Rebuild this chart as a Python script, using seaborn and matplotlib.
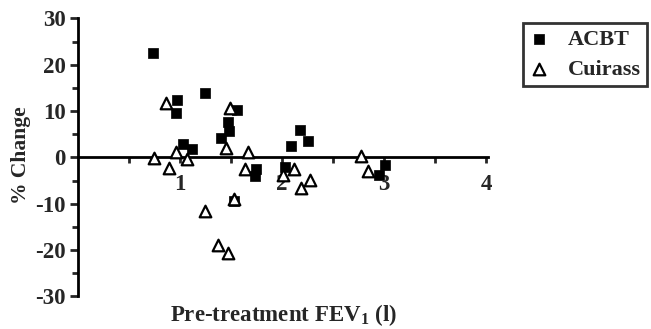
import pandas as pd
import matplotlib.pyplot as plt
import seaborn as sns

# values
acbt_fev = [0.73, 0.97, 0.96, 1.24, 1.56, 1.03, 1.12, 1.47, 1.48, 1.40,
            2.09, 2.17, 2.25, 1.74, 1.73, 1.53, 2.03, 3.01, 2.95]
acbt_change = [22.5, 12.5, 9.5, 14.0, 10.3, 3.0, 1.8, 7.6, 5.7, 4.3,
               2.4, 5.9, 3.5, -2.4, -4.0, -9.4, -2.0, -1.6, -3.7]

cuirass_fev = [0.865, 1.49, 0.745, 0.96, 1.45, 1.67, 0.89, 1.066, 1.64, 1.24,
               1.37, 1.47, 2.01, 2.12, 2.18, 2.27, 2.77, 2.84, 1.53]
cuirass_change = [11.7, 10.7, -0.1, 1.2, 2.0, 1.2, -2.2, -0.4, -2.4, -11.6,
                  -19.0, -20.6, -3.7, -2.4, -6.5, -4.9, 0.3, -3.0, -9.0]

x_ticks = [1, 2, 3, 4]
y_ticks = [-30, -20, -10, 0, 10, 20, 30]

df = pd.concat([
    pd.DataFrame({"fev": acbt_fev, "change": acbt_change, "group": "ACBT"}),
    pd.DataFrame({"fev": cuirass_fev, "change": cuirass_change, "group": "Cuirass"}),
])

sns.set_style("white")
plt.rcParams["font.family"] = ["Liberation Serif", "DejaVu Serif"]
plt.rcParams["font.weight"] = "bold"
plt.rcParams["mathtext.fontset"] = "custom"
plt.rcParams["mathtext.rm"] = "Liberation Serif:bold"

fig = plt.figure(figsize=(6.51, 3.29), dpi=100)
ax = fig.add_axes([0.12, 0.099, 0.63, 0.845])

sns.scatterplot(data=df[df.group == "ACBT"], x="fev", y="change", marker="s",
                color="black", edgecolor="black", s=55, linewidth=0.5,
                label="ACBT", ax=ax, zorder=3)
sns.scatterplot(data=df[df.group == "Cuirass"], x="fev", y="change", marker="^",
                facecolor="white", edgecolor="black", s=70, linewidth=1.6,
                label="Cuirass", ax=ax, zorder=4)

ax.set_xlim(0, 4.02)
ax.set_ylim(-30, 30)

# x axis runs through y = 0
ax.spines["bottom"].set_position(("data", 0))
ax.spines["top"].set_visible(False)
ax.spines["right"].set_visible(False)
for s in ["left", "bottom"]:
    ax.spines[s].set_linewidth(2)
    ax.spines[s].set_color("black")

xt = [0.5, 1, 1.5, 2, 2.5, 3, 3.5, 4]
ax.set_xticks(xt)
ax.set_xticklabels([str(int(t)) if t in x_ticks else "" for t in xt])
ax.tick_params(axis="x", direction="out", length=4, width=2, pad=8,
               labelsize=16.5, bottom=True)
ax.set_yticks(y_ticks)
ax.set_yticklabels([str(t).replace("\u2212", "-") for t in y_ticks])
ax.set_yticks([-25, -15, -5, 5, 15, 25], minor=True)
ax.tick_params(axis="y", which="major", direction="out", length=6, width=2,
               labelsize=16.5, pad=3, left=True)
ax.tick_params(axis="y", which="minor", direction="out", length=4, width=2, left=True)

ax.set_xlabel("")
ax.set_ylabel("")
fig.text(283 / 651, 1 - 315 / 329, "Pre-treatment FEV$_1$ (l)", fontsize=16.5,
         fontweight="bold", ha="center", va="center")
fig.text(21 / 651, 1 - 155 / 329, "% Change", fontsize=15.5, fontweight="bold",
         rotation=90, ha="center", va="center")

leg = ax.legend(loc="upper left", bbox_to_anchor=(523 / 651, 1 - 23 / 329),
                bbox_transform=fig.transFigure, frameon=True, fancybox=False,
                edgecolor="black", fontsize=16, handlelength=0.8,
                handletextpad=0.9, borderpad=0.3, labelspacing=0.4,
                borderaxespad=0)
leg.get_frame().set_linewidth(2)

fig.savefig("out.png", dpi=100)
